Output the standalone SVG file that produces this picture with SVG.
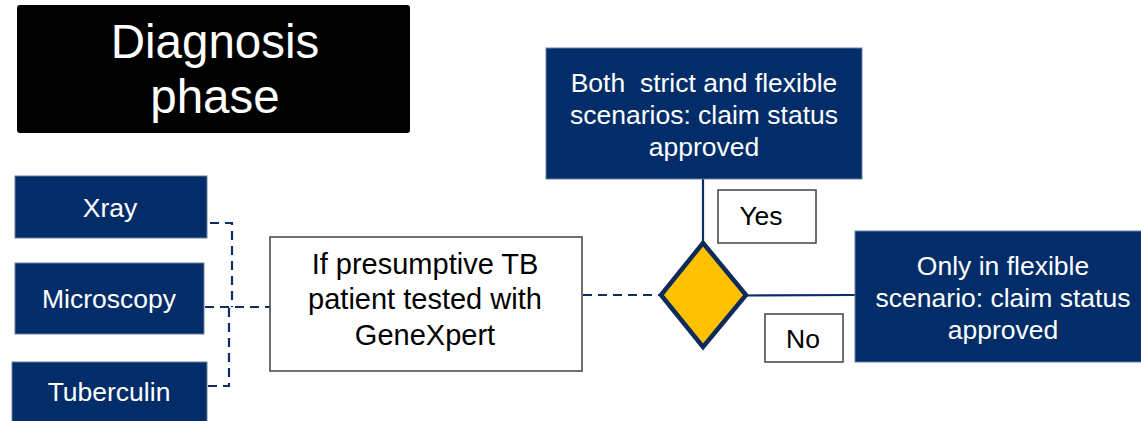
<svg xmlns="http://www.w3.org/2000/svg" width="1141" height="421" viewBox="0 0 1141 421">
<style>
.blue{fill:#022d69;stroke:#6a7f9f;stroke-width:1}
.wt{fill:#ffffff;font-family:"Liberation Sans",Arial,sans-serif;font-size:26.5px;text-anchor:middle}
.bt{fill:#000000;font-family:"Liberation Sans",Arial,sans-serif;font-size:26.5px;text-anchor:middle}
.wbox{fill:#ffffff;stroke:#404040;stroke-width:1.5}
.dash{fill:none;stroke:#0d2d63;stroke-width:2.2;stroke-dasharray:9 6}
.solid{fill:none;stroke:#0d2d63;stroke-width:2.2}
</style>
<rect width="1141" height="421" fill="#ffffff"/>
<g id="connectors">
<polyline class="dash" points="210,223 232,223 232,307"/>
<line class="dash" x1="205" y1="307" x2="270" y2="307"/>
<polyline class="dash" points="208,386 229,386 229,307"/>
<line class="dash" x1="583" y1="295" x2="660" y2="295"/>
<line class="solid" x1="703" y1="179" x2="703" y2="243"/>
<line class="solid" x1="746" y1="295.5" x2="855" y2="295"/>
</g>
<g id="title">
<rect x="17" y="5" width="393" height="128" rx="3" fill="#000000"/>
<text x="215" y="58" fill="#ffffff" font-family="'Liberation Sans',Arial,sans-serif" font-size="47.5" text-anchor="middle">Diagnosis</text>
<text x="215" y="113" fill="#ffffff" font-family="'Liberation Sans',Arial,sans-serif" font-size="47.5" text-anchor="middle">phase</text>
</g>
<g id="xray">
<rect class="blue" x="15" y="176" width="192" height="62"/>
<text class="wt" x="110" y="217">Xray</text>
</g>
<g id="microscopy">
<rect class="blue" x="15" y="263" width="189" height="71"/>
<text class="wt" x="109" y="308">Microscopy</text>
</g>
<g id="tuberculin">
<rect class="blue" x="12" y="362" width="195" height="62"/>
<text class="wt" x="109" y="401">Tuberculin</text>
</g>
<g id="test">
<rect class="wbox" x="270" y="237" width="312" height="134"/>
<text class="bt" x="425" y="274" style="font-size:29px">If presumptive TB</text>
<text class="bt" x="425" y="309" style="font-size:29px">patient tested with</text>
<text class="bt" x="425" y="345" style="font-size:29px">GeneXpert</text>
</g>
<g id="decision">
<polygon points="703,243 746,295 703,347 661,295" fill="#ffc000" stroke="#0d2a5a" stroke-width="4.5" stroke-linejoin="miter"/>
</g>
<g id="approved-both">
<rect class="blue" x="546" y="48" width="316" height="131"/>
<text class="wt" x="704" y="92" xml:space="preserve">Both  strict and flexible</text>
<text class="wt" x="704" y="124">scenarios: claim status</text>
<text class="wt" x="704" y="156">approved</text>
</g>
<g id="yes">
<rect class="wbox" x="718" y="190" width="98" height="53"/>
<text class="bt" x="761" y="225">Yes</text>
</g>
<g id="no">
<rect class="wbox" x="765" y="314" width="78" height="48"/>
<text class="bt" x="803" y="348">No</text>
</g>
<g id="approved-flexible">
<rect class="blue" x="855" y="231" width="290" height="131"/>
<text class="wt" x="1003" y="275">Only in flexible</text>
<text class="wt" x="1003" y="307">scenario: claim status</text>
<text class="wt" x="1003" y="339">approved</text>
</g>
</svg>
